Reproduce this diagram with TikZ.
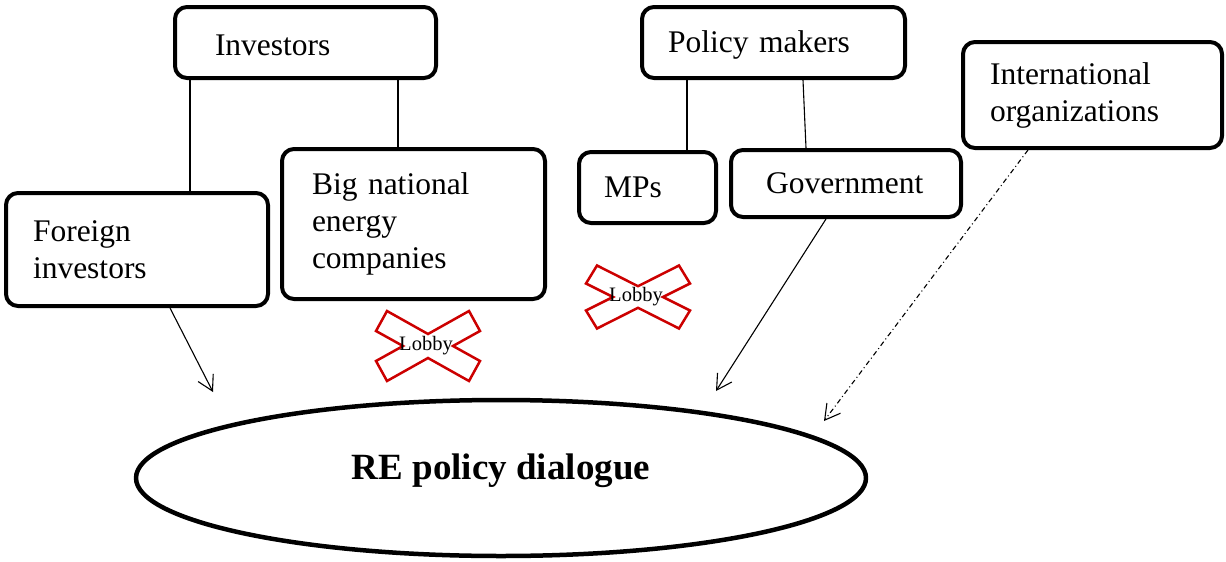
\documentclass[tikz,border=0pt]{standalone}
\usepackage{fontspec}
\setmainfont{Liberation Serif}
\usetikzlibrary{shapes.geometric,arrows.meta}
\begin{document}
\begin{tikzpicture}[x=1pt, y=-1pt, line join=round, >={Straight Barb[length=15pt,width=17pt]}, font=\fontsize{31.5}{37}\selectfont]
	\tikzset{box/.style={draw, line width=4pt, rounded corners=12pt, inner sep=0pt, align=left},
		link/.style={line width=1.1pt},
		lobbymark/.style={draw=red!80!black, line width=2.5pt, line join=miter}}
	\useasboundingbox (0,0) rectangle (1226,562);
	% actor boxes
	\node[box, minimum width=261, minimum height=71, text width=181pt] (inv) at (305.5,42.5) {\raisebox{-3pt}[\height][\depth]{Investors}};
	\node[box, minimum width=263, minimum height=71, text width=211pt] (pol) at (773.5,42.5) {\raisebox{-2pt}[\height][\depth]{Policy makers}};
	\node[box, minimum width=259, minimum height=106, text width=205pt] (intl) at (1092.5,95) {International\\organizations};
	\node[box, minimum width=262, minimum height=113, text width=208pt] (forinv) at (137,249.5) {Foreign\\investors};
	\node[box, minimum width=263, minimum height=150, text width=203pt] (bignat) at (413.5,224) {Big national\\energy\\companies};
	\node[box, minimum width=137, minimum height=71, text width=87pt] (mps) at (647.5,187.5) {MPs};
	\node[box, minimum width=230, minimum height=67, text width=160pt] (gov) at (846,183.5) {Government};
	% dialogue
	\node[draw, ellipse, line width=4.5pt, minimum width=730, minimum height=156, inner sep=0pt, font=\bfseries\fontsize{37}{44}\selectfont] (dialog) at (501,478) {\raisebox{7pt}[\height][\depth]{RE policy dialogue}};
	% tree lines
	\draw[link] (inv.south -| 190,0) -- (forinv.north -| 190,0);
	\draw[link] (inv.south -| 398,0) -- (bignat.north -| 398,0);
	\draw[link] (pol.south -| 687,0) -- (mps.north -| 687,0);
	\draw[link] (pol.south -| 803,0) -- (gov.north -| 806,0);
	% arrows into the dialogue
	\coordinate (forend) at (213,392);
	\coordinate (govend) at (716,391);
	\coordinate (intlend) at (824,421);
	\draw[link,->] ([xshift=33]forinv.south) -- (forend);
	\draw[link,->] ([xshift=-20]gov.south) -- (govend);
	\draw[link,->,dash pattern=on 5pt off 3pt on 1pt off 3pt] ([xshift=-64.5]intl.south) -- (intlend);
	% crossed out lobbying
	\foreach \cx/\cy/\s [count=\i] in {428/346/1, 638/297/0.9}{
		\draw[lobbymark, shift={(\cx,\cy)}, yscale=\s] (-52,-15) -- (-41,-35) -- (0,-12) -- (41,-35) -- (52,-15) -- (25,0) -- (52,15) -- (41,35) -- (0,12) -- (-41,35) -- (-52,15) -- (-25,0) -- cycle;
		\node[font=\fontsize{20.5}{24}\selectfont, inner sep=0pt] (lobby\i) at (\cx-2,\cy) {Lobby};
	}
\end{tikzpicture}
\end{document}
